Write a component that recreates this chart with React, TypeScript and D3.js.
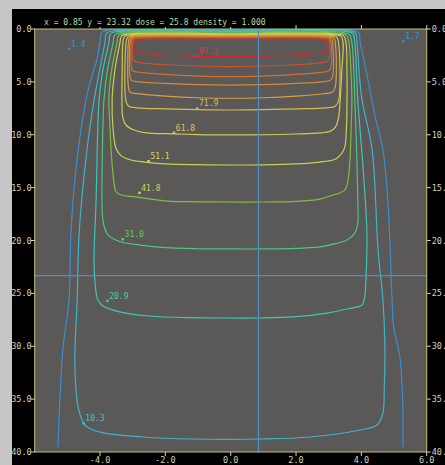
import React from 'react';
import * as d3 from 'd3';

const W = 445;
const H = 465;

// axis ticks
const xTicks = [-4, -2, 0, 2, 4, 6];
const yTicks = [0, 5, 10, 15, 20, 25, 30, 35, 40];
const header = 'x = 0.85 y = 23.32 dose = 25.8 density = 1.000';
const cursorX = 0.85;
const cursorY = 23.32;

// isodose contours, [off-axis cm, depth cm]
const c95: [number, number][] = [[-2.96, 1.35], [-2.9, 1.08], [-2.7, 1.0], [0, 0.98], [2.7, 1.0], [2.9, 1.08], [2.95, 1.35], [2.95, 1.9], [2.88, 2.15], [2.65, 2.3], [2.0, 2.45], [1.0, 2.58], [0, 2.62], [-1.0, 2.58], [-2.0, 2.48], [-2.65, 2.3], [-2.9, 2.15], [-2.96, 1.9]];
const c90: [number, number][] = [[-3.0, 1.3], [-2.95, 0.95], [-2.75, 0.86], [0, 0.85], [2.75, 0.86], [2.97, 0.95], [3.02, 1.3], [3.02, 2.7], [2.95, 3.05], [2.7, 3.2], [2.0, 3.38], [1.0, 3.5], [0, 3.56], [-1.0, 3.5], [-2.0, 3.38], [-2.7, 3.2], [-2.95, 3.05], [-3.0, 2.7]];
const c85: [number, number][] = [[-3.04, 1.3], [-3.0, 0.9], [-2.8, 0.79], [0, 0.78], [2.8, 0.79], [3.02, 0.9], [3.07, 1.3], [3.07, 3.6], [3.0, 3.95], [2.75, 4.1], [2.0, 4.3], [1.0, 4.45], [0, 4.51], [-1.0, 4.45], [-2.0, 4.3], [-2.75, 4.1], [-3.0, 3.95], [-3.04, 3.6]];
const c80: [number, number][] = [[-3.08, 1.3], [-3.04, 0.85], [-2.85, 0.73], [0, 0.72], [2.85, 0.73], [3.08, 0.85], [3.12, 1.3], [3.12, 4.5], [3.05, 4.85], [2.8, 5.0], [2.0, 5.15], [1.0, 5.26], [0, 5.3], [-1.0, 5.26], [-2.0, 5.15], [-2.8, 5.0], [-3.03, 4.87], [-3.08, 4.5]];
const c75: [number, number][] = [[-3.13, 1.3], [-3.09, 0.8], [-2.9, 0.66], [0, 0.65], [2.9, 0.66], [3.15, 0.8], [3.2, 1.3], [3.2, 5.5], [3.12, 5.95], [2.85, 6.12], [2.0, 6.35], [1.0, 6.5], [0, 6.55], [-1.0, 6.5], [-2.0, 6.35], [-2.85, 6.12], [-3.08, 5.98], [-3.13, 5.5]];
const c70: [number, number][] = [[-3.2, 1.3], [-3.15, 0.75], [-2.95, 0.59], [0, 0.58], [2.95, 0.59], [3.24, 0.75], [3.3, 1.3], [3.3, 6.8], [3.2, 7.3], [2.9, 7.45], [2.0, 7.55], [1.0, 7.62], [0, 7.66], [-1.0, 7.63], [-2.0, 7.55], [-2.85, 7.45], [-3.12, 7.3], [-3.2, 6.9]];
const c60: [number, number][] = [[-3.3, 1.3], [-3.25, 0.7], [-3.05, 0.53], [0, 0.52], [3.1, 0.53], [3.38, 0.7], [3.44, 1.3], [3.4, 4.0], [3.35, 6.71], [3.3, 8.4], [3.2, 9.3], [3.04, 9.68], [2.73, 9.83], [2.0, 9.93], [1.0, 10.0], [0, 10.02], [-1.0, 9.98], [-1.74, 9.92], [-2.65, 9.8], [-2.96, 9.55], [-3.2, 9.1], [-3.3, 8.4], [-3.33, 6.7], [-3.32, 4.0]];
const c50: [number, number][] = [[-3.39, 1.3], [-3.34, 0.65], [-3.12, 0.46], [0, 0.45], [3.2, 0.46], [3.46, 0.65], [3.53, 1.3], [3.56, 4.0], [3.56, 6.71], [3.54, 9.5], [3.48, 11.3], [3.3, 12.1], [3.13, 12.39], [2.73, 12.58], [2.0, 12.75], [1.0, 12.84], [0, 12.86], [-1.0, 12.83], [-2.0, 12.75], [-2.65, 12.58], [-3.05, 12.39], [-3.35, 12.0], [-3.51, 11.3], [-3.6, 9.5], [-3.63, 6.71], [-3.55, 4.0]];
const c40: [number, number][] = [[-3.48, 1.3], [-3.43, 0.6], [-3.2, 0.39], [0, 0.38], [3.3, 0.39], [3.55, 0.6], [3.62, 1.3], [3.68, 4.0], [3.71, 6.71], [3.68, 10.0], [3.65, 12.39], [3.58, 14.5], [3.5, 15.22], [3.3, 15.55], [3.13, 15.7], [2.73, 16.08], [2.0, 16.3], [1.0, 16.36], [0, 16.36], [-1.0, 16.34], [-1.95, 16.27], [-2.87, 15.89], [-3.35, 15.7], [-3.52, 15.35], [-3.57, 14.6], [-3.65, 12.0], [-3.7, 9.0], [-3.73, 6.71], [-3.65, 4.0]];
const c30: [number, number][] = [[-3.6, 1.3], [-3.55, 0.55], [-3.3, 0.31], [0, 0.3], [3.4, 0.31], [3.64, 0.55], [3.71, 1.3], [3.77, 4.0], [3.8, 6.71], [3.86, 12.0], [3.89, 16.17], [3.89, 18.35], [3.8, 19.3], [3.56, 19.95], [3.2, 20.3], [2.73, 20.61], [2.0, 20.75], [1.0, 20.8], [0, 20.8], [-1.0, 20.78], [-2.0, 20.68], [-2.78, 20.43], [-3.4, 20.1], [-3.75, 19.5], [-3.88, 18.6], [-3.93, 17.5], [-3.93, 12.0], [-3.88, 6.71], [-3.78, 4.0]];
const c20: [number, number][] = [[-3.73, 1.3], [-3.68, 0.45], [-3.4, 0.23], [0, 0.22], [3.5, 0.23], [3.74, 0.45], [3.8, 1.3], [3.85, 4.0], [3.89, 6.71], [4.05, 13.05], [4.17, 19.29], [4.14, 23.73], [4.1, 25.4], [4.02, 26.1], [3.6, 26.45], [2.95, 26.86], [1.91, 27.23], [0.9, 27.33], [-0.11, 27.33], [-1.2, 27.3], [-2.5, 27.14], [-3.4, 26.75], [-3.95, 26.1], [-4.08, 25.5], [-4.18, 22.51], [-4.12, 16.17], [-4.03, 6.71], [-3.92, 4.0]];
const c10: [number, number][] = [[-3.85, 1.3], [-3.8, 0.4], [-3.5, 0.16], [0, 0.15], [3.6, 0.16], [3.82, 0.4], [3.87, 1.3], [3.93, 4.0], [4.02, 6.71], [4.33, 11.44], [4.51, 20.9], [4.66, 25.63], [4.72, 30.07], [4.7, 34.0], [4.66, 36.31], [4.48, 37.45], [3.96, 37.92], [2.43, 38.58], [0.9, 38.77], [-1.15, 38.77], [-2.68, 38.58], [-4.0, 38.12], [-4.46, 37.45], [-4.67, 35.74], [-4.77, 31.58], [-4.7, 25.63], [-4.64, 19.29], [-4.4, 11.44], [-4.18, 6.71], [-4.02, 4.0]];
const c05: [number, number][] = [[-5.29, 39.53], [-5.23, 35.08], [-5.13, 30.07], [-4.95, 25.63], [-4.89, 19.29], [-4.73, 13.05], [-4.43, 6.71], [-4.25, 4.44], [-4.09, 2.84], [-4.0, 1.2], [-3.95, 0.35], [-3.7, 0.09], [0, 0.08], [3.7, 0.09], [3.92, 0.35], [3.96, 1.2], [4.15, 4.0], [4.42, 8.23], [4.66, 11.44], [4.81, 16.17], [4.94, 25.63], [4.98, 28.0], [5.1, 29.8], [5.18, 31.02], [5.25, 34.0], [5.27, 35.74], [5.27, 39.53]];

const closedContours = [c10, c20, c30, c40, c50, c60, c70, c75, c80, c85, c90, c95];
const closedColors = ['#3fb3cc', '#3ec6b6', '#4cc684', '#7cbf3e', '#c6d250', '#cfcc52', '#d5bb4c', '#d6a13e', '#d68936', '#d46e30', '#d25228', '#d62a2a'];
const openColor = '#3a8ed4';

// point labels
const labelText = ['97.2', '71.9', '61.8', '51.1', '41.8', '31.0', '20.9', '10.3', '1.4', '1.7'];
const labelX = [-1.03, -1.03, -1.74, -2.52, -2.8, -3.31, -3.78, -4.51, -4.95, 5.28];
const labelY = [2.55, 7.5, 9.8, 12.48, 15.48, 19.86, 25.69, 37.26, 1.86, 1.13];
const labelColor = ['#e8304a', '#d8b850', '#d8c860', '#d8d860', '#cdd458', '#6cc860', '#48ccaa', '#48c0c4', '#3a90d8', '#3a90d8'];

export default function App() {
  const x = d3.scaleLinear().domain([-6, 6]).range([34.7, 426.7]);
  const y = d3.scaleLinear().domain([0, 40]).range([29, 452]);
  const closedLine = d3.line<[number, number]>().x(d => x(d[0])).y(d => y(d[1])).curve(d3.curveCatmullRomClosed.alpha(0.5));
  const openLine = d3.line<[number, number]>().x(d => x(d[0])).y(d => y(d[1])).curve(d3.curveCatmullRom.alpha(0.5));
  const x0 = x(-6), x1 = x(6), y0 = y(0), y1 = y(40);
  const tickCol = '#d8d2b0';
  const font = '"DejaVu Sans Mono", monospace';
  return (
    <svg width={W} height={H} style={{ position: 'absolute', left: 0, top: 0, display: 'block' }}>
      <rect x={0} y={0} width={W} height={H} fill="#c6c6c6" />
      <rect x={12} y={9} width={W - 12} height={H - 9} fill="#000" />
      <defs>
        <clipPath id="plotclip">
          <rect x={x0} y={y0} width={x1 - x0} height={y1 - y0} />
        </clipPath>
      </defs>
      <rect x={x0} y={y0} width={x1 - x0} height={y1 - y0} fill="#5a5958" />
      <g clipPath="url(#plotclip)" fill="none" strokeWidth={1.2}>
        <path d={openLine(c05) || ''} stroke={openColor} />
        {closedContours.map((c, i) => (
          <path key={i} d={closedLine(c) || ''} stroke={closedColors[i]} />
        ))}
        <line x1={x(cursorX)} x2={x(cursorX)} y1={y0} y2={y1} stroke="#4f8fc8" strokeWidth={1.2} />
        <line x1={x0} x2={x1} y1={y(cursorY)} y2={y(cursorY)} stroke="#4f8fc8" strokeWidth={1.2} />
      </g>
      <rect x={x0} y={y0} width={x1 - x0} height={y1 - y0} fill="none" stroke="#c8c274" strokeWidth={1} />
      {/* ticks */}
      <g stroke={tickCol} strokeWidth={1}>
        {xTicks.map(t => (
          <g key={'xt' + t}>
            <line x1={x(t)} x2={x(t)} y1={y1} y2={y1 + 4} />
            <line x1={x(t)} x2={x(t)} y1={y0} y2={y0 - 4} />
          </g>
        ))}
        {yTicks.map(t => (
          <g key={'yt' + t}>
            <line x1={x0} x2={x0 - 4} y1={y(t)} y2={y(t)} />
            <line x1={x1} x2={x1 + 4} y1={y(t)} y2={y(t)} />
          </g>
        ))}
      </g>
      <g fontFamily={font} fontSize={8.5} fill={tickCol}>
        {xTicks.map(t => (
          <text key={'xl' + t} x={x(t)} y={463} textAnchor="middle">{t.toFixed(1)}</text>
        ))}
        {yTicks.map(t => (
          <text key={'yl' + t} x={x0 - 3} y={y(t) + 3} textAnchor="end">{t.toFixed(1)}</text>
        ))}
        {yTicks.map(t => (
          <text key={'yr' + t} x={x1 + 5} y={y(t) + 3} textAnchor="start">{t.toFixed(1)}</text>
        ))}
      </g>
      <rect x={40} y={15} width={228} height={12} fill="#000" />
      <text x={44} y={25} fontFamily={font} fontSize={8} fill="#b4dca8">{header}</text>
      <g fontFamily={font} fontSize={8}>
        {labelText.map((t, i) => (
          <g key={'lb' + i}>
            <rect x={x(labelX[i]) - 1} y={y(labelY[i]) - 1} width={2.4} height={2.4} fill={labelColor[i]} />
            <text x={x(labelX[i]) + 2} y={y(labelY[i]) - 2} fill={labelColor[i]}>{t}</text>
          </g>
        ))}
      </g>
    </svg>
  );
}
